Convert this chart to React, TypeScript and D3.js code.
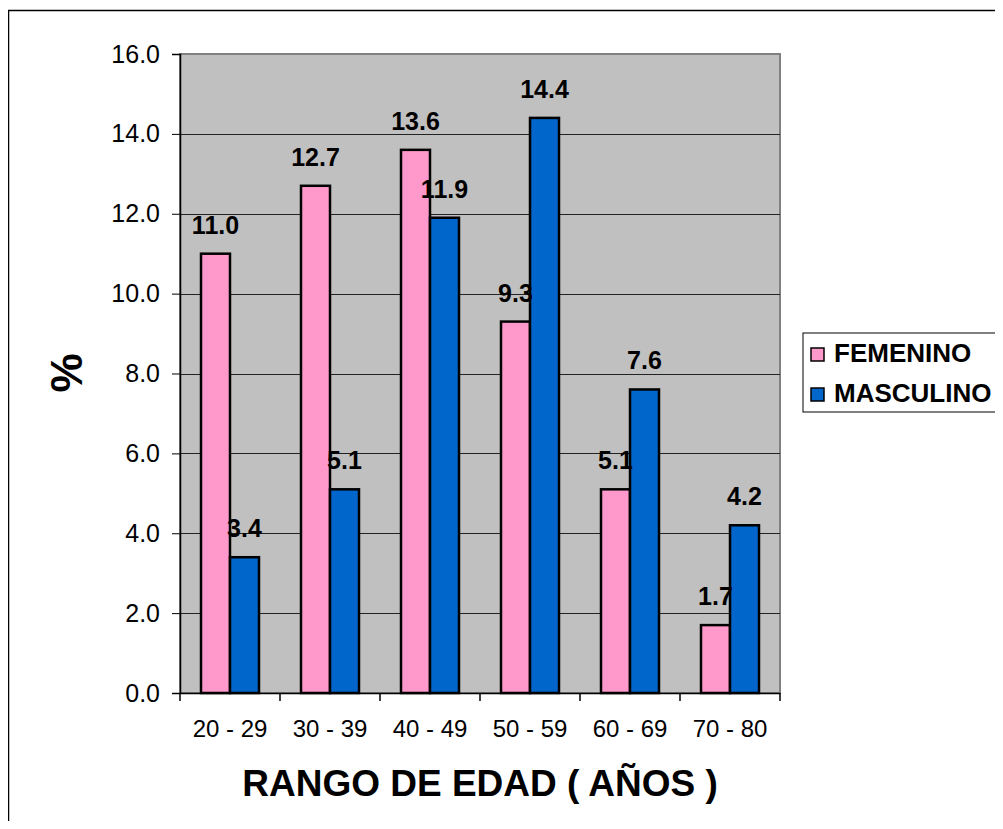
import React, { useRef, useEffect } from 'react';
import * as d3 from 'd3';

const categories = ['20 - 29', '30 - 39', '40 - 49', '50 - 59', '60 - 69', '70 - 80'];
const femenino = [11.0, 12.7, 13.6, 9.3, 5.1, 1.7];
const masculino = [3.4, 5.1, 11.9, 14.4, 7.6, 4.2];
const seriesNames = ['FEMENINO', 'MASCULINO'];
const seriesColors = ['#ff99cc', '#0066cc'];
const yTicks = [0, 2, 4, 6, 8, 10, 12, 14, 16];

const Chart = () => {
  const ref = useRef<SVGSVGElement | null>(null);
  const W = 1003;
  const H = 829;
  const plot = { left: 180, right: 780, top: 54, bottom: 693 };

  useEffect(() => {
    if (!ref.current) return;
    const svg = d3.select(ref.current);
    svg.selectAll('*').remove();
    const font = '"Liberation Sans", Arial, sans-serif';

    // outer frame
    svg
      .append('rect')
      .attr('x', 8.5)
      .attr('y', 10.5)
      .attr('width', W)
      .attr('height', H)
      .attr('fill', '#fff')
      .attr('stroke', '#000')
      .attr('stroke-width', 1.5);

    const x = d3.scaleBand().domain(categories).range([plot.left, plot.right]);
    const inner = d3.scaleBand().domain(seriesNames).range([21, 79]);
    const y = d3.scaleLinear().domain([0, 16]).range([plot.bottom, plot.top]);

    svg
      .append('rect')
      .attr('x', plot.left)
      .attr('y', plot.top)
      .attr('width', plot.right - plot.left)
      .attr('height', plot.bottom - plot.top)
      .attr('fill', '#c0c0c0')
      .attr('stroke', '#808080')
      .attr('stroke-width', 2);

    // grid lines
    svg
      .append('g')
      .selectAll('line')
      .data(yTicks.slice(1, -1))
      .join('line')
      .attr('x1', plot.left)
      .attr('x2', plot.right)
      .attr('y1', (d) => Math.round(y(d)) + 0.5)
      .attr('y2', (d) => Math.round(y(d)) + 0.5)
      .attr('stroke', '#222')
      .attr('stroke-width', 1);

    const data = categories.map((c, i) => ({ c, vals: [femenino[i], masculino[i]] }));

    const groups = svg
      .append('g')
      .selectAll('g')
      .data(data)
      .join('g')
      .attr('transform', (d) => `translate(${x(d.c)},0)`);

    groups
      .selectAll('rect')
      .data((d) => d.vals.map((v, j) => ({ v, s: seriesNames[j], j })))
      .join('rect')
      .attr('x', (d) => inner(d.s) ?? 0)
      .attr('y', (d) => y(d.v))
      .attr('width', inner.bandwidth())
      .attr('height', (d) => plot.bottom - y(d.v))
      .attr('fill', (d) => seriesColors[d.j])
      .attr('stroke', '#000')
      .attr('stroke-width', 2.5);

    groups
      .selectAll('text')
      .data((d) => d.vals.map((v, j) => ({ v, s: seriesNames[j] })))
      .join('text')
      .attr('x', (d) => (inner(d.s) ?? 0) + inner.bandwidth() / 2)
      .attr('y', (d) => y(d.v) - 20)
      .attr('text-anchor', 'middle')
      .attr('font-family', font)
      .attr('font-weight', 'bold')
      .attr('font-size', 25)
      .text((d) => d.v.toFixed(1));

    // y axis
    const yAxis = svg
      .append('g')
      .attr('transform', `translate(${plot.left},0)`)
      .call(
        d3
          .axisLeft(y)
          .tickValues(yTicks)
          .tickSize(8)
          .tickPadding(12)
          .tickFormat((d) => (d as number).toFixed(1)),
      );
    yAxis.select('.domain').attr('stroke', '#000').attr('stroke-width', 1.5);
    yAxis.selectAll('.tick line').attr('stroke', '#000');
    yAxis
      .selectAll('.tick text')
      .attr('font-family', font)
      .attr('font-size', 25)
      .attr('fill', '#000');

    // x axis
    const xAxis = svg
      .append('g')
      .attr('transform', `translate(0,${plot.bottom})`)
      .call(d3.axisBottom(x).tickSize(0).tickPadding(27));
    xAxis.select('.domain').attr('stroke', '#000').attr('stroke-width', 1.5);
    xAxis
      .selectAll('.tick text')
      .attr('font-family', font)
      .attr('font-size', 24)
      .attr('fill', '#000');
    svg
      .append('g')
      .selectAll('line')
      .data(categories.concat(['end']))
      .join('line')
      .attr('x1', (d, i) => plot.left + i * x.step())
      .attr('x2', (d, i) => plot.left + i * x.step())
      .attr('y1', plot.bottom)
      .attr('y2', plot.bottom + 8)
      .attr('stroke', '#000')
      .attr('stroke-width', 1.5);

    // titles
    svg
      .append('text')
      .attr('x', (plot.left + plot.right) / 2)
      .attr('y', 796)
      .attr('text-anchor', 'middle')
      .attr('font-family', font)
      .attr('font-weight', 'bold')
      .attr('font-size', 37)
      .text('RANGO DE EDAD ( AÑOS )');

    svg
      .append('text')
      .attr('transform', `translate(82,373) rotate(-90)`)
      .attr('text-anchor', 'middle')
      .attr('font-family', font)
      .attr('font-weight', 'bold')
      .attr('font-size', 44)
      .text('%');

    // legend
    const lg = svg.append('g');
    lg.append('rect')
      .attr('x', 803)
      .attr('y', 333)
      .attr('width', 205)
      .attr('height', 79)
      .attr('fill', '#fff')
      .attr('stroke', '#000')
      .attr('stroke-width', 1);
    seriesNames.forEach((name, i) => {
      lg.append('rect')
        .attr('x', 811)
        .attr('y', 348 + i * 40)
        .attr('width', 13)
        .attr('height', 13)
        .attr('fill', seriesColors[i])
        .attr('stroke', '#000')
        .attr('stroke-width', 1.5);
      lg.append('text')
        .attr('x', 834)
        .attr('y', 362 + i * 40)
        .attr('font-family', font)
        .attr('font-weight', 'bold')
        .attr('font-size', 26)
        .text(name);
    });
  }, []);

  return <svg ref={ref} width={W} height={H} style={{ display: 'block' }} />;
};

export default function App() {
  return (
    <div style={{ margin: -8 }}>
      <Chart />
    </div>
  );
}
